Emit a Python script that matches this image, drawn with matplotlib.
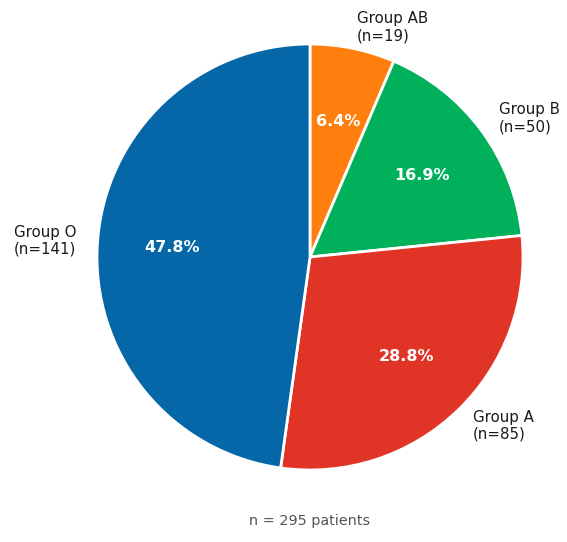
import matplotlib.pyplot as plt

# Data
groups = ["Group AB", "Group B", "Group A", "Group O"]
counts = [19, 50, 85, 141]
colors = ["#ff7f0e", "#00b05a", "#e03526", "#0567a7"]
total_note = "n = 295 patients"

W, H = 567, 542
fig = plt.figure(figsize=(W / 100, H / 100), dpi=100)

# pie centre at (310, 257) px from top-left, radius ~213 px
R_PX = 213
LIM = 1.1
cx, cy = 310, H - 257
side = 2 * LIM * R_PX
ax = fig.add_axes([(cx - side / 2) / W, (cy - side / 2) / H, side / W, side / H])

labels = [f"{g}\n(n={n})" for g, n in zip(groups, counts)]
wedges, texts, autotexts = ax.pie(
    counts, labels=labels, colors=colors, autopct="%1.1f%%",
    startangle=90, counterclock=False, pctdistance=0.65,
    labeldistance=1.1, wedgeprops=dict(edgecolor="white", linewidth=2),
    textprops=dict(fontsize=10.8, color="#1a1a1a"))

for t in autotexts:
    t.set_color("white")
    t.set_fontweight("bold")
    t.set_fontsize(11.5)

ax.set_xlim(-LIM, LIM)
ax.set_ylim(-LIM, LIM)
ax.set_aspect("equal")
for t in texts:
    t.set_clip_on(False)

fig.text(cx / W, 1 - 521 / H, total_note, ha="center", va="center",
         fontsize=10.4, color="#555555")

fig.savefig("out.png", dpi=100)
